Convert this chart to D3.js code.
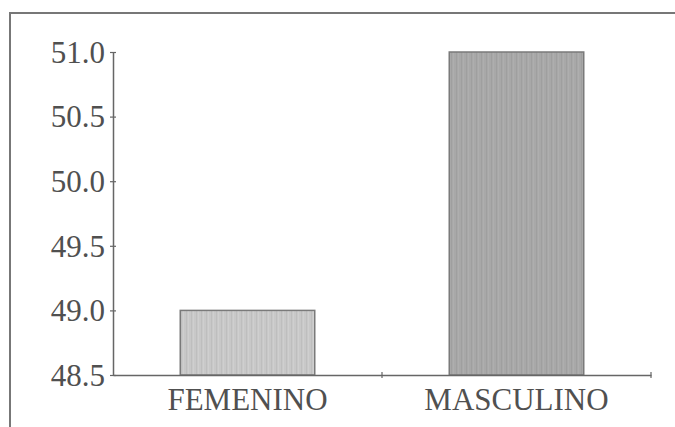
<!DOCTYPE html>
<html>
<head>
<meta charset="utf-8">
<script src="https://cdn.jsdelivr.net/npm/d3@7"></script>
<style>
  html, body { margin: 0; padding: 0; background: #fff; }
  svg { display: block; }
  .tick text { font-family: "Liberation Serif", "Times New Roman", serif; fill: #505050; }
</style>
</head>
<body>
<div id="chart"></div>
<script>
// Datos
var categories = ['FEMENINO', 'MASCULINO'];
var values = [49.0, 51.0];
var yTicks = [48.5, 49.0, 49.5, 50.0, 50.5, 51.0];
var barColors = ['#c8c8c8', '#a8a8a8'];

(function () {
    var W = 675, H = 427;
    var mLeft = 113, mRight = 651, mTop = 52, mBottom = 375;

    var svg = d3.select('#chart').append('svg')
        .attr('width', W)
        .attr('height', H);

    // marco (solo arriba e izquierda visibles)
    svg.append('path')
        .attr('d', 'M10,' + H + ' L10,13 L' + W + ',13')
        .attr('fill', 'none')
        .attr('stroke', '#777')
        .attr('stroke-width', 2);

    var x = d3.scaleBand().domain(categories).range([mLeft, mRight]).paddingInner(0.5).paddingOuter(0.25);
    var y = d3.scaleLinear().domain([48.5, 51.0]).range([mBottom, mTop]);

    // textura ligera para las barras
    var defs = svg.append('defs');
    barColors.forEach(function (c, i) {
        var p = defs.append('pattern')
            .attr('id', 'tex' + i)
            .attr('patternUnits', 'userSpaceOnUse')
            .attr('width', 5).attr('height', 4);
        p.append('rect').attr('width', 5).attr('height', 4).attr('fill', c);
        p.append('rect').attr('x', 1).attr('width', 1).attr('height', 4)
            .attr('fill', d3.color(c).darker(0.15));
        p.append('rect').attr('x', 3).attr('width', 1).attr('height', 4)
            .attr('fill', d3.color(c).brighter(0.1));
    });

    svg.selectAll('rect.bar')
        .data(values)
        .join('rect')
        .attr('class', 'bar')
        .attr('x', function (d, i) { return x(categories[i]); })
        .attr('width', x.bandwidth())
        .attr('y', function (d) { return y(d); })
        .attr('height', function (d) { return mBottom - y(d); })
        .attr('fill', function (d, i) { return 'url(#tex' + i + ')'; })
        .attr('stroke', '#7a7a7a')
        .attr('stroke-width', 1.5);

    // eje Y
    var yAxis = d3.axisLeft(y).tickValues(yTicks).tickFormat(d3.format('.1f')).tickSize(0).tickPadding(8);
    var gy = svg.append('g').attr('transform', 'translate(' + mLeft + ',0)').call(yAxis);
    gy.select('.domain').attr('stroke', '#666').attr('stroke-width', 1.5);
    gy.selectAll('.tick text').attr('font-size', 31).attr('dy', '0.33em');
    gy.selectAll('.tick').append('line')
        .attr('x1', -3).attr('x2', 3)
        .attr('stroke', '#666').attr('stroke-width', 1.2);

    // eje X
    var xAxis = d3.axisBottom(x).tickSize(0).tickPadding(32);
    var gx = svg.append('g').attr('transform', 'translate(0,' + mBottom + ')').call(xAxis);
    gx.select('.domain').attr('stroke', '#666').attr('stroke-width', 1.5);
    gx.selectAll('.tick text').attr('font-size', 31).attr('dy', '0.1em');
    // marcas entre categorías
    var xSep = [mLeft + (mRight - mLeft) / 2, mRight];
    gx.selectAll('line.sep')
        .data(xSep)
        .join('line')
        .attr('class', 'sep')
        .attr('x1', function (d) { return d; })
        .attr('x2', function (d) { return d; })
        .attr('y1', -3).attr('y2', 3)
        .attr('stroke', '#666').attr('stroke-width', 1.2);
})();
</script>
</body>
</html>
